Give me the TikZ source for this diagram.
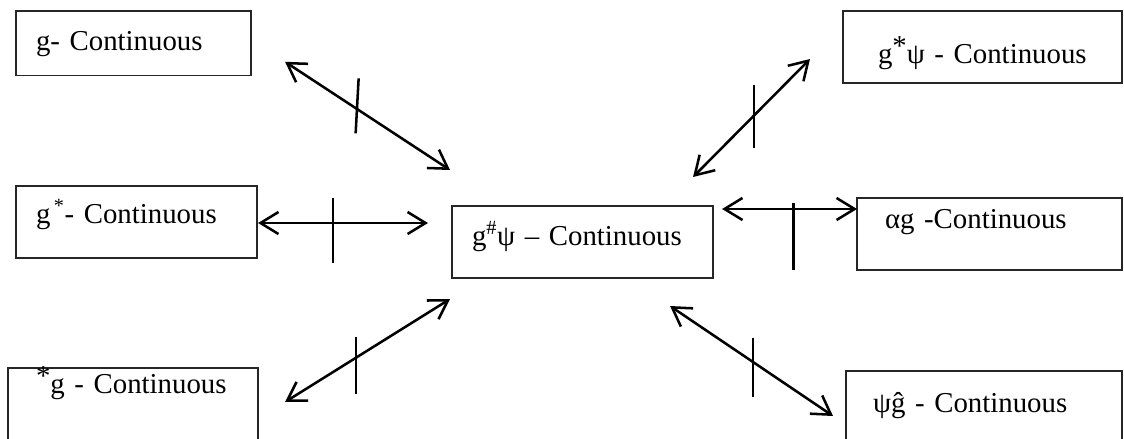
\documentclass[tikz,border=0pt]{standalone}
\usepackage{fontspec}
\setmainfont{Liberation Serif}
\usetikzlibrary{arrows.meta,positioning,calc}

\begin{document}
\begin{tikzpicture}[x=0.025cm,y=-0.025cm,
  cbox/.style={draw=black!85,line width=0.9pt,anchor=north west,
    align=left,inner ysep=0pt,outer sep=0pt,
    font=\fontsize{20.5}{24}\selectfont},
  dbl/.style={{Straight Barb[length=0.45cm,width=0.55cm]}-{Straight Barb[length=0.45cm,width=0.55cm]},
    line width=1.8pt},
  tick/.style={line width=1.8pt}]
  \useasboundingbox (0,0) rectangle (1124,439);
  % Centre box
  \node[cbox,text width=5.525cm,inner xsep=0.5cm,
    text height=0.975cm,text depth=0.825cm]
    (C) at (452,206) {g\textsuperscript{\#}ψ – Continuous};
  % Left column
  \node[cbox,text width=4.875cm,inner xsep=0.5cm,
    text height=0.99cm,text depth=0.63cm]
    (G1) at (16,11) {g- Continuous};
  \node[cbox,text width=5.025cm,inner xsep=0.5cm,
    text height=0.925cm,text depth=0.875cm]
    (G3) at (16,186) {g\textsuperscript{\,*}- Continuous};
  \node[cbox,text width=4.85cm,inner xsep=0.7cm,
    text height=0.625cm,text depth=1.5cm]
    (G5) at (8,368) {\raisebox{0.55ex}{*}g - Continuous};
  % Right column
  \node[cbox,text width=5.225cm,inner xsep=0.875cm,
    text height=1.3cm,text depth=0.5cm]
    (G2) at (843,11) {g\raisebox{0.55ex}{*}ψ - Continuous};
  \node[cbox,text width=5.225cm,inner xsep=0.7cm,
    text height=0.75cm,text depth=1.05cm]
    (G4) at (857,198) {αg -Continuous};
  \node[cbox,text width=5.55cm,inner xsep=0.675cm,
    text height=1.025cm,text depth=1.25cm]
    (G6) at (846,371) {ψĝ - Continuous};
  % Arrows with crossing strokes
  \draw[dbl] ($(G1.south east)+(34,-14)$) -- coordinate[pos=0.44] (t1)
    ($(C.north west)+(-2,-36)$);
  \draw[tick] ($(t1)+(1,-31)$) -- ($(t1)+(-2,24)$);
  \draw[dbl] ($(C.north east)+(-20,-29)$) -- coordinate[pos=0.52] (t2)
    ($(G2.south west)+(-33,-24)$);
  \draw[tick] ($(t2)+(0,-31)$) -- ($(t2)+(0,32)$);
  \draw[dbl] ($(G3.east)+(1,1)$) -- coordinate[pos=0.44] (t3)
    ($(C.west)+(-24,-19)$);
  \draw[tick] ($(t3)+(0,-25)$) -- ($(t3)+(0,40)$);
  \draw[dbl] ($(C.north east)+(9,3)$) -- coordinate[pos=0.53] (t4)
    ($(G4.north west)+(0,11)$);
  \draw[tick] ($(t4)+(0,-6)$) -- ($(t4)+(0,61)$);
  \draw[dbl] ($(G5.north east)+(27,34)$) -- coordinate[pos=0.43] (t5)
    ($(C.south west)+(-2,21)$);
  \draw[tick] ($(t5)+(0,-21)$) -- ($(t5)+(0,36)$);
  \draw[dbl] ($(C.south east)+(-43,28)$) -- coordinate[pos=0.51] (t6)
    ($(G6.north west)+(-13,45)$);
  \draw[tick] ($(t6)+(0,-24)$) -- ($(t6)+(0,35)$);
\end{tikzpicture}
\end{document}
